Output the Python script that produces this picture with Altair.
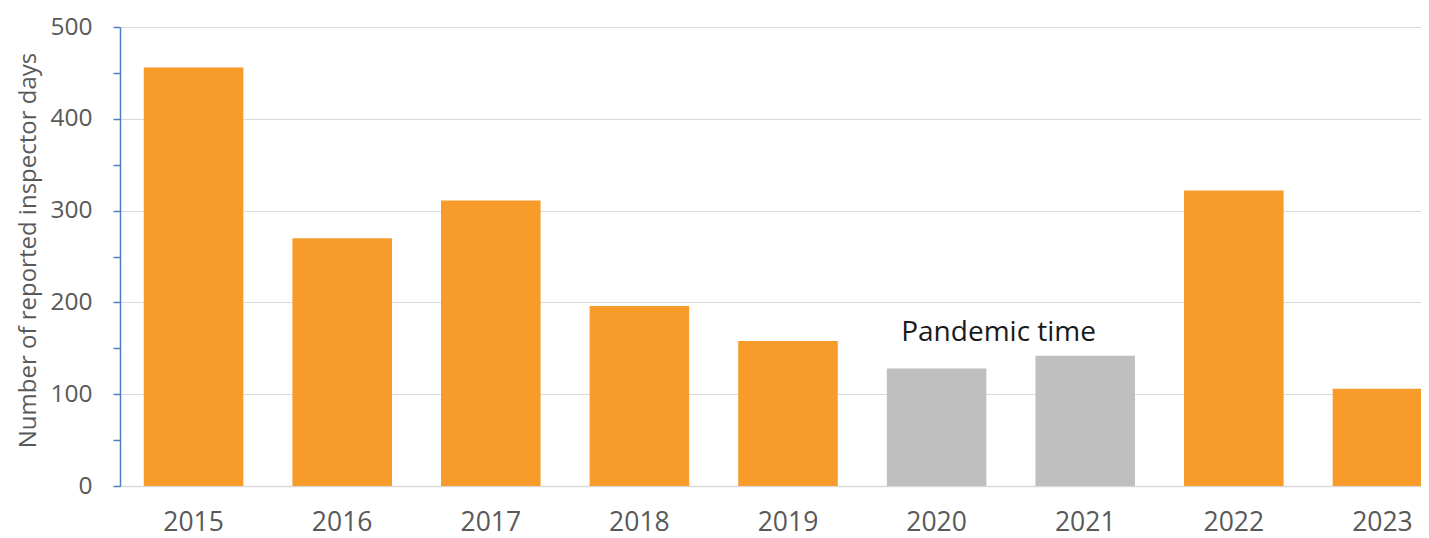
import altair as alt
import pandas as pd

# ---- data ----
years = ["2015", "2016", "2017", "2018", "2019", "2020", "2021", "2022", "2023"]
days = [456, 270, 311, 196, 158, 128, 142, 322, 106]
period = ["normal", "normal", "normal", "normal", "normal",
          "pandemic", "pandemic", "normal", "normal"]
y_ticks = [0, 25, 50, 75, 100, 125, 150, 175, 200, 225, 250, 275, 300,
           325, 350, 375, 400, 425, 450, 475, 500]
note_year = ["2020"]
note_value = [158]
note_text = ["Pandemic time"]

ORANGE = "#F79B2A"
GREY = "#BFBFBF"
BLUE = "#4E80C8"
GRID = "#D9D9D9"
TEXT = "#595959"
FONT = "Open Sans"

df = pd.DataFrame({"year": years, "days": days, "period": period})
note = pd.DataFrame({"year": note_year, "days": note_value, "label": note_text})

x_enc = alt.X(
    "year:N", sort=years, title=None,
    scale=alt.Scale(range=[0, 1336], paddingInner=0.33, paddingOuter=0.16),
    axis=alt.Axis(labelAngle=0, ticks=False, tickSize=0, domainColor=GRID,
                  domainWidth=1.5, labelPadding=23, labelFont=FONT,
                  labelFontSize=26.5, labelColor=TEXT),
)

y_enc = alt.Y(
    "days:Q",
    scale=alt.Scale(domain=[0, 500], nice=False),
    axis=alt.Axis(
        title="Number of reported inspector days",
        values=y_ticks,
        labelExpr="datum.value % 100 === 0 ? datum.label : ''",
        labelOverlap=False,
        tickSize=7, tickColor=BLUE, tickWidth=1.5,
        domainColor=BLUE, domainWidth=1.5,
        gridColor=GRID, gridWidth=1.2,
        gridOpacity={"condition": {"test": "datum.value % 100 === 0", "value": 1}, "value": 0},
        labelFont=FONT, labelFontSize=24.5, labelColor=TEXT, labelPadding=21,
        titleFont=FONT, titleFontSize=24, titleFontWeight="normal", titleColor=TEXT,
        titleX=-92, titleY=223, titleBaseline="middle", titleAlign="center",
    ),
)

bars = alt.Chart(df).mark_bar(clip=True).encode(
    x=x_enc,
    y=y_enc,
    color=alt.Color("period:N",
                    scale=alt.Scale(domain=["normal", "pandemic"], range=[ORANGE, GREY]),
                    legend=None),
)

label = alt.Chart(note).mark_text(
    font=FONT, fontSize=28, color="#1A1A1A", baseline="alphabetic",
    align="center", dx=62,
).encode(
    x=alt.X("year:N", sort=years),
    y=alt.Y("days:Q"),
    text="label:N",
)

chart = alt.layer(bars, label).properties(
    width=1301, height=459,
    padding={"left": 112, "top": 19, "right": 0, "bottom": 52},
    autosize=alt.AutoSizeParams(type="none"),
).configure_view(stroke=None)

chart.save("out.html", embed_options={"renderer": "svg", "actions": False})
